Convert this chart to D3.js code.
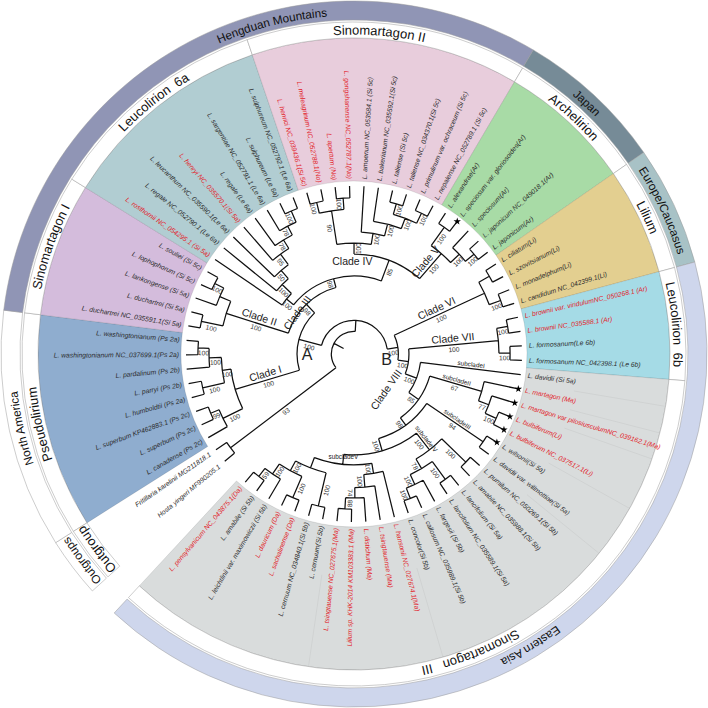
<!DOCTYPE html>
<html lang="en">
  <head>
    <meta charset="UTF-8" />
    <title>Lilium phylogeny</title>
    <script src="https://cdnjs.cloudflare.com/ajax/libs/d3/7.8.5/d3.min.js"></script>
    <style>
      body {
        margin: 0;
        background: #fff;
        font-family: "Liberation Sans", Arial, sans-serif;
      }
      svg {
        display: block;
      }
      .branch {
        fill: none;
        stroke: #111;
        stroke-width: 1.25px;
      }
      .tip {
        font-size: 6.75px;
        font-style: italic;
      }
      .support {
        font-size: 6.6px;
        fill: #333;
        text-anchor: middle;
      }
      .clade {
        font-size: 10.5px;
        fill: #222;
        text-anchor: middle;
      }
      .subclade {
        font-size: 6.4px;
        fill: #222;
        text-anchor: middle;
      }
      .cell {
        stroke: #9a9a9a;
        stroke-width: 0.5px;
      }
      .ring-text {
        font-size: 13px;
        fill: #111;
        text-anchor: middle;
      }
      .band-text {
        font-size: 11.8px;
        fill: #111;
        text-anchor: middle;
      }
    </style>
  </head>
  <body>
    <div id="chart"></div>
    <script>
      // tips, clockwise from the outgroup
      const tipLabels = [
        "Hosta yingeri MF990205.1", "Fritillaria karelinii MG211818.1",
        "L. canadense (Ps 2c)", "L. superbum (Ps 2c)", "L. superbum KP462883.1 (Ps 2c)",
        "L. humboldtii (Ps 2a)", "L. parryi (Ps 2b)", "L. pardalinum (Ps 2b)",
        "L. washingtonianum NC_037699.1(Ps 2a)", "L. washingtonianum (Ps 2a)",
        "L. duchartrei NC_035591.1(Si 5a)", "L. duchartrei (Si 5a)", "L. lankongense (Si 5a)",
        "L. lophophorum (Si 5c)", "L. souliei (Si 5c)",
        "L. rosthornii NC_054295.1 (Si 5a)", "L. regale NC_052790.1 (Le 6a)",
        "L. leucanthum NC_035590.1(Le 6a)", "L. henryi NC_035570.1(Si 5a)", "L. regale (Le 6a)",
        "L. sargentiae NC_052791.1 (Le 6a)", "L. sulphureum (Le 6a)", "L. sulphureum NC_052792.1 (Le 6a)",
        "L. henrici NC_039436.1(Si 5c)", "L. meleagrinum NC_052788.1(No)", "L. apertum (No)",
        "L. gongshanense NC_052787.1(No)", "L. amoenum NC_053584.1 (Si 5c)",
        "L. bakerianum NC_035592.1(Si 5c)", "L. taliense (Si 5c)", "L. taliense NC_034370.1(Si 5c)",
        "L. primulinum var. ochraceum (Si 5c)", "L. nepalense NC_052789.1 (Si 5c)",
        "L. alexandrae(Ar)", "L. speciosum var. gloriosoides(Ar)", "L. speciosum(Ar)",
        "L. japonicum NC_049018.1(Ar)", "L. japonicum(Ar)",
        "L. ciliatum(Li)", "L. szovitsianum(Li)", "L. monadelphum(Li)", "L. candidum NC_042399.1(Li)",
        "L. brownii var. viridulumNC_050268.1 (Ar)", "L. brownii NC_035588.1 (Ar)",
        "L. formosanum(Le 6b)", "L. formosanum NC_042398.1 (Le 6b)",
        "L. davidii (Si 5a)", "L. martagon (Ma)", "L. martagon var pilosiusculumNC_039162.1(Ma)",
        "L. bulbiferum(Li)", "L. bulbiferum NC_037517.1(Li)", "L. wilsonii(Si 5a)",
        "L. davidii var. willmottiae(Si 5a)", "L. pumilum NC_050269.1(Si 5b)",
        "L. amabile NC_035988.1(Si 5b)", "L. lancifolium (Si 5a)", "L. lancifolium NC_035589.1(Si 5a)",
        "L. fargesii (Si 5b)", "L. callosum NC_035989.1(Si 5b)", "L. concolor(Si 5b)",
        "L. hansonii NC_027674.1(Ma)", "L. tsingtauense (Ma)", "L. distichum (Ma)",
        "Lilium sp. KHK-2014 KM103383.1 (Ma)", "L. tsingtauense NC_027675.1(Ma)",
        "L. cernuum(Si 5b)", "L. cernuum NC_034840.1(Si 5b)", "L. sachalinense (Da)", "L. dauricum (Da)",
        "L. leichtlinii var. maximowiczii (Si 5b)", "L. amabile (Si 5b)", "L. pensylvanicum NC_043875.1(Da)",
      ];
      const tipParents = [
        "og", "og", "c1l", "ks", "ks", "pa", "pa", "wp", "w", "w",
        "dd", "dd", "lk", "ls", "ls",
        "c3g", "c3f", "c3e", "c3d", "c3c", "c3b", "c3a", "c3a",
        "hm", "hm", "ag", "ag", "c4r", "c4s", "tal", "tal", "pn", "pn",
        "as", "as", "c5l", "jj", "jj",
        "cs", "cs", "mc", "mc", "bb", "bb", "ff", "ff",
        "c8", "s2", "m2", "bu", "bu", "s3", "s3", "pu", "pu", "la", "la", "fc", "cc", "cc",
        "hn", "t1", "dt", "ls2", "ls2", "ce", "ce", "sd", "sd", "lm", "pe", "pe",
      ];
      const redTips = [15, 18, 23, 24, 25, 26, 42, 43, 47, 48, 49, 50, 60, 61, 62, 63, 64, 67, 68, 71];
      const starTips = [34, 47, 48, 49, 50, 51];

      // internal nodes: id, parent, depth (tips = 100), bootstrap
      const treeNodes = [
        ["root", null, 13.5, ""], ["og", "root", 92.3, "93"], ["ingroup", "root", 20, ""],
        ["A", "ingroup", 33.9, "100"], ["c1", "A", 73.8, "100"], ["c1u", "c1", 79, "100"],
        ["wp", "c1u", 86.3, "100"], ["w", "wp", 92.9, "100"], ["pa", "c1u", 92.3, "100"],
        ["c1l", "c1", 86.9, "100"], ["ks", "c1l", 92.3, "99"],
        ["b2", "A", 41, "98"], ["c2", "b2", 79.8, "100"], ["dd", "c2", 92.9, "100"],
        ["lk", "c2", 86.9, ""], ["ls", "lk", 92.9, "100"],
        ["b3", "b2", 46.4, "98"], ["c3g", "b3", 51.8, "100"], ["c3f", "c3g", 59.5, "100"],
        ["c3e", "c3f", 66, "50"], ["c3d", "c3e", 73.8, "95"], ["c3c", "c3d", 79.8, "78"],
        ["c3b", "c3c", 85.7, "78"], ["c3a", "c3b", 92.9, "100"],
        ["b45", "b3", 59.5, "85"], ["c4", "b45", 66, "100"], ["hmag", "c4", 86.3, "90"],
        ["hm", "hmag", 92.9, "100"], ["ag", "hmag", 92.9, "100"], ["c4r", "c4", 72.6, "100"],
        ["c4s", "c4r", 79.8, "100"], ["tp", "c4s", 86.3, "100"], ["tal", "tp", 92.9, "100"],
        ["pn", "tp", 92.9, "100"], ["c5", "b45", 79.2, "100"], ["as", "c5", 92.6, "100"],
        ["c5l", "c5", 86.3, "100"], ["jj", "c5l", 92.9, "100"],
        ["B", "ingroup", 26.4, "100"], ["c6", "B", 85.7, "100"], ["cs", "c6", 92.9, ""],
        ["mc", "c6", 92.9, "100"], ["b7", "B", 32.7, "100"], ["c7", "b7", 86.3, "100"],
        ["bb", "c7", 92.9, "100"], ["ff", "c7", 92.9, "100"],
        ["c8", "b7", 39.9, "100"], ["c8b", "c8", 47, "85"], ["s2", "c8b", 79.2, "67"],
        ["m2", "s2", 85.7, "77"], ["bu", "m2", 92.9, "100"], ["c8c", "c8b", 52.4, "98"],
        ["s3", "c8c", 92.9, "94"], ["c8d", "c8c", 60, "100"], ["s4", "c8d", 72.6, "100"],
        ["pu", "s4", 92.6, "100"], ["lf", "s4", 79.2, "78"], ["la", "lf", 92.3, "100"],
        ["fc", "lf", 85.7, "100"], ["cc", "fc", 92.3, "100"], ["s5", "c8d", 66, ""],
        ["hn", "s5", 72, "100"], ["t1", "hn", 79.5, "100"], ["dt", "t1", 85.7, "74"],
        ["ls2", "dt", 92.3, "88"], ["cr", "s5", 72.6, ""], ["cd", "cr", 79.2, "100"],
        ["lm", "cd", 86.3, "100"], ["pe", "lm", 92.3, "59"], ["sd", "cd", 92.9, "100"],
        ["ce", "cr", 92.9, "100"],
      ];

      // names written along a branch
      const cladeNodes = ["c1", "c2", "c5", "c6", "c7"];
      const cladeNames = ["Clade I", "Clade II", "Clade V", "Clade VI", "Clade VII"];
      const subcladeNodes = ["tip46", "s2", "s3", "s4", "s5"];
      const subcladeNames = ["subcladeI", "subcladeII", "subcladeIII", "subcladeIV", "subcladeV"];

      // coloured sectors and the two label rings: first tip, last tip
      const sectorNames = ["Pseudolirium", "Sinomartagon I", "Leucolirion  6a", "Sinomartagon II", "Archelirion", "Lilium", "Leucolirion  6b", "Sinomartagon   III"];
      const sectorFirst = [2, 10, 15, 23, 33, 38, 42, 46];
      const sectorLast = [9, 14, 22, 32, 37, 41, 45, 71];
      const sectorColors = ["#8fadcf", "#d4bcdc", "#b1cdd2", "#e8cddc", "#a8dba6", "#e3cf90", "#a5dbe6", "#d9dcdc"];
      const greyDividers = [46.5, 47.5, 48.5, 50.5, 52.5, 59.5, 64.5];

      const regionNames = ["Outgroups", "North America", "Hengduan Mountains", "Japan", "Europe/Caucasus", "Eastern Asia"];
      const regionFirst = [0, 2, 10, 33, 38, 42];
      const regionLast = [1, 9, 32, 37, 41, 71];
      const regionColors = ["#ffffff", "#ffffff", "#9095b5", "#768b97", "#a8c2c6", "#ced6ec"];

      // these two names sit off the middle of their cell in the original
      const offCentreNames = new Map([["Hengduan Mountains", 346], ["Sinomartagon II", 364.5]]);

      const width = 708;
      const height = 708;
      const sectorInner = 173;
      const sectorOuter = 316;
      const ringOuter = 332;
      const bandInner = 334;
      const bandOuter = 353;

      const toRad = Math.PI / 180;
      const angle = d3.scaleLinear().domain([0, 71]).range([230.3, 230.3 + 71 * 4.93]);
      const radius = d3.scaleLinear().domain([0, 100]).range([0, 168]);

      const svg = d3
        .select("#chart")
        .append("svg")
        .attr("width", width)
        .attr("height", height);
      const g = svg.append("g").attr("transform", `translate(${width / 2},${height / 2})`);
      const defs = svg.append("defs");

      const arc = d3.arc();
      const spanStart = (first) => angle(first - 0.5) * toRad;
      const spanEnd = (last) => angle(last + 0.5) * toRad;

      // sectors behind everything
      sectorNames.forEach((name, i) => {
        g.append("path")
          .attr("d", arc({
            innerRadius: sectorInner,
            outerRadius: sectorOuter,
            startAngle: spanStart(sectorFirst[i]),
            endAngle: spanEnd(sectorLast[i]),
          }))
          .attr("fill", sectorColors[i])
          .attr("stroke", "#000")
          .attr("stroke-opacity", 0.2)
          .attr("stroke-width", 0.5);
      });
      greyDividers.forEach((d) => {
        const a = angle(d) * toRad;
        g.append("path")
          .attr("d", d3.lineRadial()([[a, sectorInner + 50], [a, sectorOuter]]))
          .attr("stroke", "#c6c9c9")
          .attr("stroke-width", 0.5);
      });

      // text that follows a ring, always running clockwise
      function ringText(name, first, last, r, id, cls) {
        const centre = offCentreNames.get(name) ?? (angle(first - 0.5) + angle(last + 0.5)) / 2;
        const mid = (centre - 90) * toRad;
        const spread = 70 * toRad;
        const p = d3.path();
        p.arc(0, 0, r, mid - spread, mid + spread);
        defs.append("path").attr("id", id).attr("d", p.toString());
        g.append("text")
          .attr("class", cls)
          .style("white-space", "pre")
          .append("textPath")
          .attr("href", `#${id}`)
          .attr("startOffset", "50%")
          .text(name);
      }

      // inner label ring
      const ringCells = sectorNames.map((name, i) => [name, sectorFirst[i], sectorLast[i]]);
      ringCells.push(["Outgroup", 0, 1]);
      ringCells.forEach(([name, first, last], i) => {
        g.append("path")
          .attr("class", "cell")
          .attr("d", arc({
            innerRadius: sectorOuter,
            outerRadius: ringOuter,
            startAngle: spanStart(first),
            endAngle: spanEnd(last),
          }))
          .attr("fill", "#fff");
        ringText(name, first, last, sectorOuter + 3.5, `ring-${i}`, "ring-text");
      });

      // outer region band
      regionNames.forEach((name, i) => {
        g.append("path")
          .attr("class", "cell")
          .attr("d", arc({
            innerRadius: bandInner,
            outerRadius: bandOuter,
            startAngle: spanStart(regionFirst[i]),
            endAngle: spanEnd(regionLast[i]),
          }))
          .attr("fill", regionColors[i]);
        ringText(name, regionFirst[i], regionLast[i], bandInner + 4.5, `band-${i}`, "band-text");
      });

      // build the tree
      const rows = treeNodes
        .map(([id, parent, depth, support]) => ({ id, parent, depth, support }))
        .concat(tipLabels.map((label, i) => ({ id: `tip${i}`, parent: tipParents[i], depth: 100, support: "", tip: i, label })));
      const root = d3.stratify().id((d) => d.id).parentId((d) => d.parent)(rows);
      root.eachAfter((n) => {
        n.r = radius(n.data.depth);
        if (n.children) {
          n.angle = d3.mean(n.children, (c) => c.angle);
        } else {
          n.angle = angle(n.data.tip);
        }
      });
      const byId = new Map(root.descendants().map((n) => [n.id, n]));

      const branchPath = d3.path();
      root.each((n) => {
        const a = (n.angle - 90) * toRad;
        const from = n.parent ? n.parent.r : radius(7);
        branchPath.moveTo(from * Math.cos(a), from * Math.sin(a));
        branchPath.lineTo(n.r * Math.cos(a), n.r * Math.sin(a));
        if (n.children) {
          const extent = d3.extent(n.children, (c) => c.angle);
          const a0 = (extent[0] - 90) * toRad;
          branchPath.moveTo(n.r * Math.cos(a0), n.r * Math.sin(a0));
          branchPath.arc(0, 0, n.r, a0, (extent[1] - 90) * toRad);
        }
      });
      g.append("path").attr("class", "branch").attr("d", branchPath.toString());

      // puts something on the middle of a radial stem, reading along it
      function alongStem(n) {
        const from = n.parent ? n.parent.r : 0;
        const mid = (from + n.r) / 2;
        const a = ((n.angle % 360) + 360) % 360;
        const flip = a > 180;
        return `rotate(${a - 90}) translate(${mid},0) rotate(${flip ? 180 : 0})`;
      }

      // tip labels
      root.leaves().forEach((n) => {
        const a = ((n.angle % 360) + 360) % 360;
        const flip = a > 180;
        g.append("text")
          .attr("class", "tip")
          .attr("transform", `rotate(${a - 90}) translate(${sectorInner + 2},0) rotate(${flip ? 180 : 0})`)
          .attr("text-anchor", flip ? "end" : "start")
          .attr("dy", "0.33em")
          .attr("fill", redTips.includes(n.data.tip) ? "#e2232a" : "#2b2b2b")
          .text(n.data.label);
      });

      // stars
      starTips.forEach((i) => {
        const n = byId.get(`tip${i}`);
        const a = n.angle * toRad;
        g.append("path")
          .attr("d", d3.symbol(d3.symbolStar, 17)())
          .attr("transform", `translate(${n.r * Math.sin(a)},${-n.r * Math.cos(a)})`)
          .attr("fill", "#000");
      });

      // bootstrap values
      root.descendants().forEach((n) => {
        if (!n.data.support) return;
        g.append("text")
          .attr("class", "support")
          .attr("transform", alongStem(n))
          .attr("dy", 7)
          .text(n.data.support);
      });

      // clade names above their stems
      cladeNodes.forEach((id, i) => {
        g.append("text")
          .attr("class", "clade")
          .attr("transform", alongStem(byId.get(id)))
          .attr("dy", -3)
          .text(cladeNames[i]);
      });
      subcladeNodes.forEach((id, i) => {
        g.append("text")
          .attr("class", "subclade")
          .attr("transform", alongStem(byId.get(id)))
          .attr("dy", -2)
          .text(subcladeNames[i]);
      });
      // subclade V sits across its short stem
      g.selectAll(".subclade")
        .filter((d, i) => i === 4)
        .attr("transform", () => {
          const a = byId.get("s5").angle * toRad;
          return `translate(${104 * Math.sin(a)},${-104 * Math.cos(a)})`;
        })
        .attr("dy", 2);

      // the three names that follow the arcs, not a stem
      function polarLabel(text, a, r, rot, cls, size) {
        const t = a * toRad;
        g.append("text")
          .attr("class", cls)
          .attr("transform", `translate(${r * Math.sin(t)},${-r * Math.cos(t)}) rotate(${rot})`)
          .attr("dy", "0.35em")
          .style("font-size", size ? `${size}px` : null)
          .text(text);
      }
      polarLabel("Clade III", 306, 70, -54, "clade");
      polarLabel("Clade IV", 359, 93, 0, "clade");
      polarLabel("Clade VIII", 138, 48, -55, "clade");
      polarLabel("A", 270, 47, 0, "clade", 16);
      polarLabel("B", 100, 33, 0, "clade", 16);
    </script>
  </body>
</html>
